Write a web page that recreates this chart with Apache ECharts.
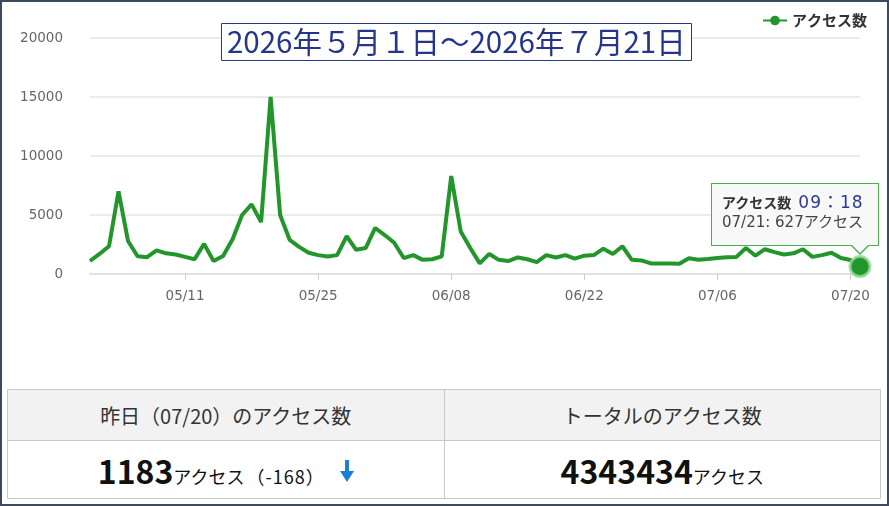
<!DOCTYPE html>
<html><head><meta charset="utf-8">
<script src="https://cdn.jsdelivr.net/npm/echarts@6/dist/echarts.min.js"></script>
<style>
html,body{margin:0;padding:0;background:#fff;}
body{width:889px;height:506px;position:relative;overflow:hidden;font-family:"Noto Sans CJK JP",sans-serif;}
#chart{position:absolute;left:0;top:0;width:889px;height:385px;}
#frame{position:absolute;left:0;top:0;width:889px;height:506px;box-sizing:border-box;border:2px solid #3b4a5c;pointer-events:none;}
table{position:absolute;left:7px;top:389px;width:874px;border-collapse:collapse;table-layout:fixed;}
td{border:1px solid #c8c8c8;text-align:center;padding:0;}
tr.h td{background:#f2f2f2;height:50px;font-size:20px;color:#333;}
tr.v td{height:57px;background:#fff;color:#111;font-size:18px;}
.num{font-size:32px;font-weight:bold;}
.par{letter-spacing:1px;margin-left:2px;}
.arr{display:inline-block;vertical-align:2px;margin-left:15px;}
</style>
</head><body>
<div id="chart"></div>
<table>
<tr class="h"><td id="h1"></td><td id="h2"></td></tr>
<tr class="v"><td id="v1"></td><td id="v2"></td></tr>
</table>
<div id="frame"></div>
<script>
const dates = ["05/01","05/02","05/03","05/04","05/05","05/06","05/07","05/08","05/09","05/10",
"05/11","05/12","05/13","05/14","05/15","05/16","05/17","05/18","05/19","05/20",
"05/21","05/22","05/23","05/24","05/25","05/26","05/27","05/28","05/29","05/30","05/31",
"06/01","06/02","06/03","06/04","06/05","06/06","06/07","06/08","06/09","06/10",
"06/11","06/12","06/13","06/14","06/15","06/16","06/17","06/18","06/19","06/20",
"06/21","06/22","06/23","06/24","06/25","06/26","06/27","06/28","06/29","06/30",
"07/01","07/02","07/03","07/04","07/05","07/06","07/07","07/08","07/09","07/10",
"07/11","07/12","07/13","07/14","07/15","07/16","07/17","07/18","07/19","07/20","07/21"];
const accessCounts = [1100,1700,2350,7000,2800,1500,1420,2000,1750,1650,
1450,1250,2550,1100,1530,2950,5000,5900,4400,15000,
5000,2900,2300,1800,1600,1480,1600,3200,2050,2200,3900,
3300,2650,1350,1600,1200,1250,1500,8300,3600,2200,
900,1700,1200,1100,1400,1250,1000,1600,1400,1600,
1300,1550,1600,2150,1700,2350,1200,1150,900,900,
900,870,1330,1200,1270,1350,1420,1450,2200,1550,
2100,1850,1650,1750,2100,1450,1600,1800,1351,1183,627];
const seriesName = "アクセス数";
const titleText = "2026年５月１日～2026年７月21日";
const tooltipTime = "09：18";
const unitText = "アクセス";
const yTicks = {min:0, max:20000, interval:5000};
const summaryHeaders = ["昨日（07/20）のアクセス数", "トータルのアクセス数"];
const yesterdayCount = 1183;
const yesterdayDiff = -168;
const totalCount = 4343434;

document.getElementById('h1').textContent = summaryHeaders[0];
document.getElementById('h2').textContent = summaryHeaders[1];
document.getElementById('v1').innerHTML = '<span class="num">' + yesterdayCount + '</span>' + unitText + '<span class="par">（' + yesterdayDiff + '）</span>' +
  '<svg class="arr" width="14" height="22" viewBox="0 0 14 22"><rect x="5" y="0" width="4" height="13" fill="#1b7fd6"/><polygon points="0,11 14,11 7,22" fill="#1b7fd6"/></svg>';
document.getElementById('v2').innerHTML = '<span class="num">' + totalCount + '</span>' + unitText;

const green = '#23962b';
const last = dates.length - 1;
const chart = echarts.init(document.getElementById('chart'));
chart.setOption({
  animation: false,
  title: {
    text: titleText, left: 221, top: 23,
    backgroundColor: '#fff', borderColor: '#2b3a80', borderWidth: 1, padding: [4, 6],
    textStyle: {fontSize: 29.5, color: '#24358a', fontWeight: 'normal', fontFamily: 'Noto Sans CJK JP'}
  },
  legend: {
    data: [seriesName], right: 22, top: 13, padding: 0, itemWidth: 24, itemHeight: 12, itemGap: 5,
    textStyle: {fontSize: 15, fontWeight: 'bold', color: '#333', fontFamily: 'Noto Sans CJK JP'}
  },
  grid: {left: 90, right: 29, top: 38, bottom: 111},
  tooltip: {
    trigger: 'axis', axisPointer: {type: 'none'}, alwaysShowContent: true,
    position: [711, 183], padding: 0, borderWidth: 0, backgroundColor: 'transparent',
    transitionDuration: 0, extraCssText: 'box-shadow:none;border-radius:0;',
    formatter: function (params) {
      const p = params[0];
      return '<div style="position:relative;width:168px;height:63px;box-sizing:border-box;border:1px solid #4cae4c;background:#f8f8f8;padding:8px 0 0 10px;font-family:\'Noto Sans CJK JP\',sans-serif;">' +
        '<div style="font-size:14px;font-weight:bold;color:#333;line-height:20px;white-space:nowrap">' + p.seriesName +
        '<span style="font-weight:normal;color:#2b3990;font-size:17px;margin-left:7px;letter-spacing:1px;font-family:\'DejaVu Sans\',\'Noto Sans CJK JP\'">' + tooltipTime + '</span></div>' +
        '<div style="font-size:15px;color:#444;line-height:21px;white-space:nowrap;font-family:\'DejaVu Sans\',\'Noto Sans CJK JP\'">' + p.name + ': ' + p.value + unitText + '</div>' +
        '<div style="position:absolute;left:138px;bottom:-10px;width:0;height:0;border-left:10px solid transparent;border-right:10px solid transparent;border-top:10px solid #4cae4c;"></div>' +
        '<div style="position:absolute;left:139px;bottom:-8px;width:0;height:0;border-left:9px solid transparent;border-right:9px solid transparent;border-top:9px solid #f8f8f8;"></div>' +
        '</div>';
    }
  },
  xAxis: {
    type: 'category', data: dates, boundaryGap: false,
    axisLine: {show: true, lineStyle: {color: '#e2e2e2', width: 2}},
    axisTick: {show: true, length: 6, interval: function (i) { return i % 14 === 10; }, lineStyle: {color: '#cccccc'}},
    axisLabel: {interval: function (i) { return i % 14 === 10; }, color: '#666', fontSize: 13.5, margin: 15, fontFamily: 'DejaVu Sans'}
  },
  yAxis: {
    type: 'value', min: yTicks.min, max: yTicks.max, interval: yTicks.interval,
    axisLine: {show: false}, axisTick: {show: false},
    axisLabel: {color: '#666', fontSize: 13.5, margin: 27, fontFamily: 'DejaVu Sans', formatter: function (v) { return String(v); }},
    splitLine: {lineStyle: {color: '#ebebeb', width: 2}}
  },
  series: [{
    name: seriesName, type: 'line', data: accessCounts, showSymbol: false, symbol: 'circle', symbolSize: 10,
    lineStyle: {color: green, width: 4}, itemStyle: {color: green},
    emphasis: {disabled: true},
    markPoint: {
      symbol: 'circle', symbolSize: 20, silent: true,
      itemStyle: {color: green, borderColor: 'rgba(150,215,150,0.8)', borderWidth: 3},
      label: {show: false},
      data: [{coord: [dates[last], accessCounts[last]]}]
    }
  }]
});
function tip(){ chart.dispatchAction({type: 'showTip', seriesIndex: 0, dataIndex: last}); }
tip();
setTimeout(tip, 50);
</script>
</body></html>
